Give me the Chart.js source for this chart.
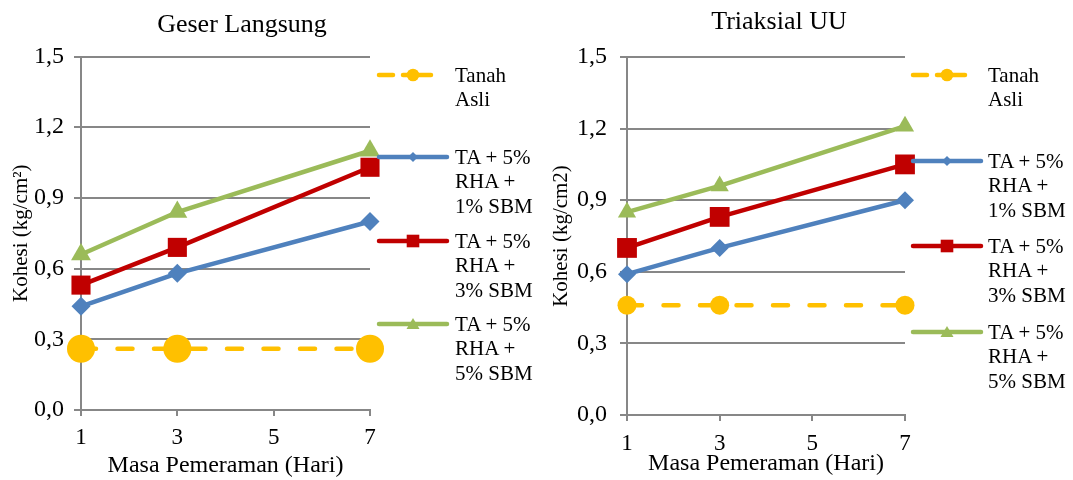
<!DOCTYPE html>
<html>
<head>
<meta charset="utf-8">
<script src="https://cdn.jsdelivr.net/npm/chart.js@4.4.1/dist/chart.umd.min.js"></script>
<style>
  html, body { margin: 0; padding: 0; background: #ffffff; }
  body { width: 1073px; height: 480px; position: relative; overflow: hidden; }
  .panel { position: absolute; top: 0; }
  .legend-item { position: absolute; }
  .legend-text {
    position: absolute;
    font-family: "Liberation Serif", "Times New Roman", serif;
    font-size: 21px;
    line-height: 24.5px;
    color: #000;
    white-space: nowrap;
  }
</style>
</head>
<body>
<canvas id="gl" class="panel" width="484" height="480" style="left:0px"></canvas>
<canvas id="uu" class="panel" width="478" height="480" style="left:540px"></canvas>

<script>
// Curing time (days) and cohesion values (kg/cm²)
const days = [1, 3, 7];
const xTicks = [1, 3, 5, 7];
const yTicks = [0, 0.3, 0.6, 0.9, 1.2, 1.5];
const yTickLabels = ['0,0', '0,3', '0,6', '0,9', '1,2', '1,5'];

const seriesNames = [['Tanah', 'Asli'], ['TA + 5%', 'RHA +', '1% SBM'], ['TA + 5%', 'RHA +', '3% SBM'], ['TA + 5%', 'RHA +', '5% SBM']];

// Geser Langsung (direct shear)
const glTanahAsli = [0.26, 0.26, 0.26];
const glSbm1 = [0.44, 0.58, 0.80];
const glSbm3 = [0.53, 0.69, 1.03];
const glSbm5 = [0.66, 0.84, 1.10];

// Triaksial UU
const uuTanahAsli = [0.46, 0.46, 0.46];
const uuSbm1 = [0.59, 0.70, 0.90];
const uuSbm3 = [0.70, 0.83, 1.05];
const uuSbm5 = [0.85, 0.96, 1.21];

const COLORS = { tanah: '#FFC000', sbm1: '#4F81BD', sbm3: '#C00000', sbm5: '#9BBB59' };
const GRID = '#878787';
const SERIF = '"Liberation Serif", "Times New Roman", serif';

function pts(vals) { return days.map((d, i) => ({ x: d, y: vals[i] })); }

function datasets(tanah, s1, s3, s5, sizes) {
  return [
    { label: seriesNames[0].join(' '), data: pts(tanah), borderColor: COLORS.tanah, backgroundColor: COLORS.tanah,
      borderDash: [15, 21.5], borderCapStyle: 'round', pointStyle: 'circle', pointRadius: sizes.circle, order: 0 },
    { label: seriesNames[1].join(' '), data: pts(s1), borderColor: COLORS.sbm1, backgroundColor: COLORS.sbm1,
      pointStyle: 'rectRot', pointRadius: sizes.diamond, order: 1 },
    { label: seriesNames[2].join(' '), data: pts(s3), borderColor: COLORS.sbm3, backgroundColor: COLORS.sbm3,
      pointStyle: 'rect', pointRadius: sizes.square, order: 2 },
    { label: seriesNames[3].join(' '), data: pts(s5), borderColor: COLORS.sbm5, backgroundColor: COLORS.sbm5,
      pointStyle: 'triangle', pointRadius: sizes.triangle, order: 3 }
  ].map(ds => Object.assign({ borderWidth: 4.5, pointBorderWidth: 0, pointHoverRadius: ds.pointRadius,
    tension: 0, clip: false, borderJoinStyle: 'round' }, ds));
}

// Panel heading drawn at a fixed centre, independent of the plot's right-hand gap
const panelTitle = {
  id: 'panelTitle',
  afterDraw(chart, args, opts) {
    const ctx = chart.ctx;
    ctx.save();
    ctx.font = `26px ${SERIF}`;
    ctx.fillStyle = '#000';
    ctx.textAlign = 'center';
    ctx.textBaseline = 'alphabetic';
    ctx.fillText(opts.text, opts.x, opts.baseline);
    ctx.restore();
  }
};

function makeChart(id, cfg) {
  return new Chart(document.getElementById(id), {
    type: 'line',
    data: { datasets: cfg.datasets },
    plugins: [panelTitle],
    options: {
      responsive: false,
      devicePixelRatio: 1,
      animation: false,
      events: [],
      layout: { padding: { left: 0, right: cfg.padRight, top: cfg.padTop, bottom: 0 } },
      plugins: {
        legend: { display: false },
        tooltip: { enabled: false },
        title: { display: false },
        panelTitle: { text: cfg.title, x: cfg.titleX, baseline: cfg.titleBaseline }
      },
      scales: {
        x: {
          type: 'linear', min: 1, max: 7,
          afterBuildTicks: s => { s.ticks = xTicks.map(v => ({ value: v })); },
          afterFit: s => { s.height = cfg.xHeight; },
          grid: { drawOnChartArea: false, drawTicks: true, tickLength: 6, color: GRID, lineWidth: 2 },
          border: { display: true, color: GRID, width: 2 },
          ticks: { color: '#000', padding: cfg.xTickPad, font: { family: SERIF, size: 23 }, maxRotation: 0 },
          title: { display: true, text: 'Masa Pemeraman (Hari)', color: '#000',
            font: { family: SERIF, size: 24 }, padding: { top: 0, bottom: cfg.xTitlePad } }
        },
        y: {
          min: 0, max: 1.5,
          afterBuildTicks: s => { s.ticks = yTicks.map(v => ({ value: v })); },
          afterFit: s => { s.width = cfg.yWidth; },
          grid: { color: GRID, lineWidth: 2, tickLength: 7 },
          border: { display: true, color: GRID, width: 2 },
          ticks: { color: '#000', padding: cfg.yTickPad, font: { family: SERIF, size: 24 },
            callback: (v) => yTickLabels[yTicks.findIndex(t => Math.abs(t - v) < 1e-9)] },
          title: { display: true, text: cfg.yTitle, color: '#000',
            font: { family: SERIF, size: 21 }, padding: { top: 8.4, bottom: 0 } }
        }
      }
    }
  });
}

makeChart('gl', {
  title: 'Geser Langsung', titleX: 242, titleBaseline: 32,
  yTitle: 'Kohesi (kg/cm²)',
  datasets: datasets(glTanahAsli, glSbm1, glSbm3, glSbm5, { circle: 14, diamond: 9.5, square: 13.5, triangle: 11.5 }),
  padRight: 114, padTop: 56.5, yWidth: 81, xHeight: 70,
  xTickPad: 8, xTitlePad: 0, yTickPad: 10
});

makeChart('uu', {
  title: 'Triaksial UU', titleX: 239, titleBaseline: 28.5,
  yTitle: 'Kohesi (kg/cm2)',
  datasets: datasets(uuTanahAsli, uuSbm1, uuSbm3, uuSbm5, { circle: 9.5, diamond: 9, square: 14, triangle: 10.5 }),
  padRight: 113, padTop: 57, yWidth: 87, xHeight: 65,
  xTickPad: 9, xTitlePad: 2, yTickPad: 13
});

// Legends: line sample with marker, then multi-line label
const NS = 'http://www.w3.org/2000/svg';
const legendSamples = [
  { color: COLORS.tanah, shape: 'circle', dashed: true },
  { color: COLORS.sbm1, shape: 'diamond' },
  { color: COLORS.sbm3, shape: 'square' },
  { color: COLORS.sbm5, shape: 'triangle' }
];

function drawLegend(sampleX, textX, rows) {
  rows.forEach((cy, i) => {
    const s = legendSamples[i];
    const svg = document.createElementNS(NS, 'svg');
    svg.setAttribute('width', '80'); svg.setAttribute('height', '24');
    svg.setAttribute('class', 'legend-item');
    svg.style.left = (sampleX - 4) + 'px'; svg.style.top = (cy - 12) + 'px';
    const mk = (tag, attrs) => { const e = document.createElementNS(NS, tag); for (const k in attrs) e.setAttribute(k, attrs[k]); svg.appendChild(e); return e; };
    const mx = 4 + 36;
    if (s.dashed) {
      mk('line', { x1: 6, y1: 12, x2: 20, y2: 12, stroke: s.color, 'stroke-width': 4.5, 'stroke-linecap': 'round' });
      mk('line', { x1: 30, y1: 12, x2: 58, y2: 12, stroke: s.color, 'stroke-width': 4.5, 'stroke-linecap': 'round' });
    } else {
      mk('line', { x1: 6, y1: 12, x2: 74, y2: 12, stroke: s.color, 'stroke-width': 4.5, 'stroke-linecap': 'round' });
    }
    if (s.shape === 'circle') mk('circle', { cx: mx, cy: 12, r: 6.3, fill: s.color });
    if (s.shape === 'diamond') mk('polygon', { points: `${mx},7 ${mx + 5},12 ${mx},17 ${mx - 5},12`, fill: s.color });
    if (s.shape === 'square') mk('rect', { x: mx - 6.3, y: 5.7, width: 12.6, height: 12.6, fill: s.color });
    if (s.shape === 'triangle') mk('polygon', { points: `${mx},6 ${mx + 6.5},17 ${mx - 6.5},17`, fill: s.color });
    document.body.appendChild(svg);

    const t = document.createElement('div');
    t.className = 'legend-text';
    t.style.left = textX + 'px';
    t.style.top = (cy - 12.25) + 'px';
    t.innerHTML = seriesNames[i].join('<br>');
    document.body.appendChild(t);
  });
}

drawLegend(377, 455, [75, 157, 241, 324]);
drawLegend(911, 988, [75, 161, 246, 332]);
</script>
</body>
</html>
